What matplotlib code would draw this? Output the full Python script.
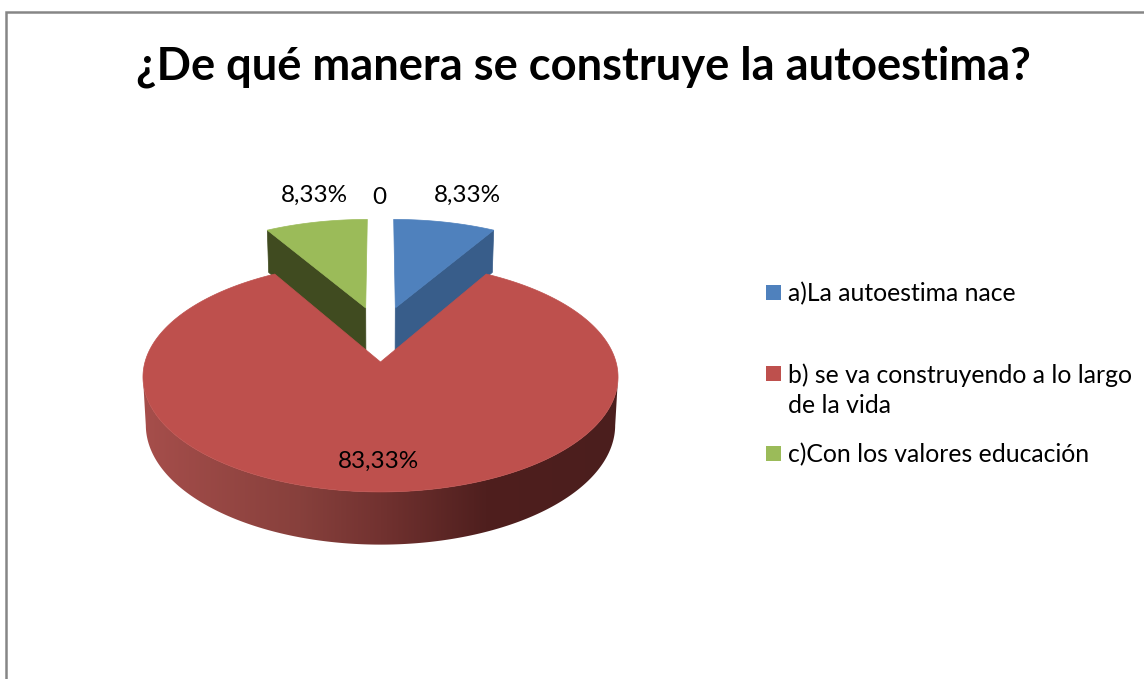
import numpy as np
import matplotlib
matplotlib.use("Agg")
import matplotlib.pyplot as plt
from matplotlib.colors import LinearSegmentedColormap
from matplotlib.patches import Polygon, Rectangle

plt.rcParams["font.family"] = ["Lato", "DejaVu Sans"]

title = "¿De qué manera se construye la autoestima?"
categories = ["a)La autoestima nace", "b) se va construyendo a lo largo\nde la vida", "c)Con los valores educación"]
values = [8.33, 83.33, 8.33]
zero_label = "0"
top_colors = ["#4F81BD", "#BE504D", "#9BBB59"]
side_colors = ["#385D8A", "#4B1E1D", "#404B20"]

# perspective of the pie, in pixels
CX, CY = 380.5, 362
RX, RY, TILT = 235.5, 113, 0.1304
DEPTH, SHRINK = 47.5, 0.988


def project(px, py, low=False):
    scale = 1 + TILT * py
    x = RX * px / scale
    y = RY * py / scale
    if low:
        return CX + x * SHRINK, CY - y * 0.985 + DEPTH / scale
    return CX + x, CY - y


def disc_point(angle, radius=1.0, shift=(0.0, 0.0)):
    return radius * np.sin(angle) + shift[0], radius * np.cos(angle) + shift[1]


def arc(a0, a1, shift=(0.0, 0.0), low=False):
    angles = np.linspace(a0, a1, 400)
    px, py = disc_point(angles, 1.0, shift)
    x, y = project(px, py, low)
    return np.column_stack([x, y])


total = sum(values)
edges = np.concatenate([[0], np.cumsum(values)]) / total * 2 * np.pi
shifts = [(0.067, 0.51), (0.0, 0.0), (-0.067, 0.51)]

fig = plt.figure(figsize=(11.44, 6.79), dpi=100)
ax = fig.add_axes([0, 0, 1, 1])

# the two small slices: cut face first, then the top
for i in [0, 2]:
    shift = shifts[i]
    a_rim = edges[i + 1] if i == 0 else edges[i]
    top_apex = project(shift[0], shift[1])
    low_apex = project(shift[0], shift[1], low=True)
    rim_px, rim_py = disc_point(a_rim, 1.0, shift)
    face = [top_apex, project(rim_px, rim_py), project(rim_px, rim_py, low=True), low_apex]
    ax.add_patch(Polygon(face, closed=True, fc=side_colors[i], ec=side_colors[i], lw=0.5))
    outline = np.vstack([[top_apex], arc(edges[i], edges[i + 1], shift)])
    ax.add_patch(Polygon(outline, closed=True, fc=top_colors[i], ec=top_colors[i], lw=0.5))

# big slice: rim between the widest points of both discs, then the top
upper = arc(edges[1], edges[2])
lower = arc(edges[1], edges[2], low=True)
rim = np.vstack([
    upper[upper[:, 0].argmax():upper[:, 0].argmin() + 1],
    lower[lower[:, 0].argmax():lower[:, 0].argmin() + 1][::-1],
])
rim_patch = Polygon(rim, closed=True, fc="none", ec="none")
ax.add_patch(rim_patch)
rim_cmap = LinearSegmentedColormap.from_list(
    "rim", [(0.0, "#A64E4B"), (0.33, "#87403C"), (0.5, "#723230"), (0.72, "#4F1F1E"), (1.0, "#4B1E1D")]
)
shade = ax.imshow(
    np.linspace(0, 1, 256)[None, :],
    cmap=rim_cmap,
    extent=(rim[:, 0].min(), rim[:, 0].max(), rim[:, 1].max(), rim[:, 1].min()),
    aspect="auto",
)
shade.set_clip_path(rim_patch)

outline = np.vstack([[project(0, 0)], upper])
ax.add_patch(Polygon(outline, closed=True, fc=top_colors[1], ec=top_colors[1], lw=0.5))

# data labels
label_radius = [1.4, 0.78, 1.4]
label_nudge = [(6, 3), (-2, 1), (15, 3)]
for i, v in enumerate(values):
    mid = (edges[i] + edges[i + 1]) / 2
    lx, ly = project(*disc_point(mid, label_radius[i], shifts[i]))
    ax.text(lx + label_nudge[i][0], ly + label_nudge[i][1], f"{v:.2f}".replace(".", ",") + "%",
            fontsize=17.5, ha="center", va="center", color="black")
lx, ly = project(*disc_point(0.0, 1.8))
ax.text(lx - 1, ly, zero_label, fontsize=17.5, ha="center", va="center", color="black")

# legend
swatch_y = [285, 366, 446]
text_y = [301, 413, 462]
for cat, color, sy, base in zip(categories, top_colors, swatch_y, text_y):
    ax.add_patch(Rectangle((766, sy), 15, 15, fc=color, ec="none"))
    ax.text(788, base, cat, fontsize=17.85, ha="left", va="baseline", color="black", linespacing=1.38)

ax.text(583.5, 67, title, fontsize=32.6, fontweight="bold", ha="center", va="center", color="black")

# chart frame, cut off by the picture on the right and at the bottom
ax.plot([6, 6, 1144], [679, 12, 12], color="#868686", lw=1.8, solid_joinstyle="miter")

ax.set_xlim(0, 1144)
ax.set_ylim(679, 0)
ax.axis("off")

fig.savefig("out.png", dpi=100)
